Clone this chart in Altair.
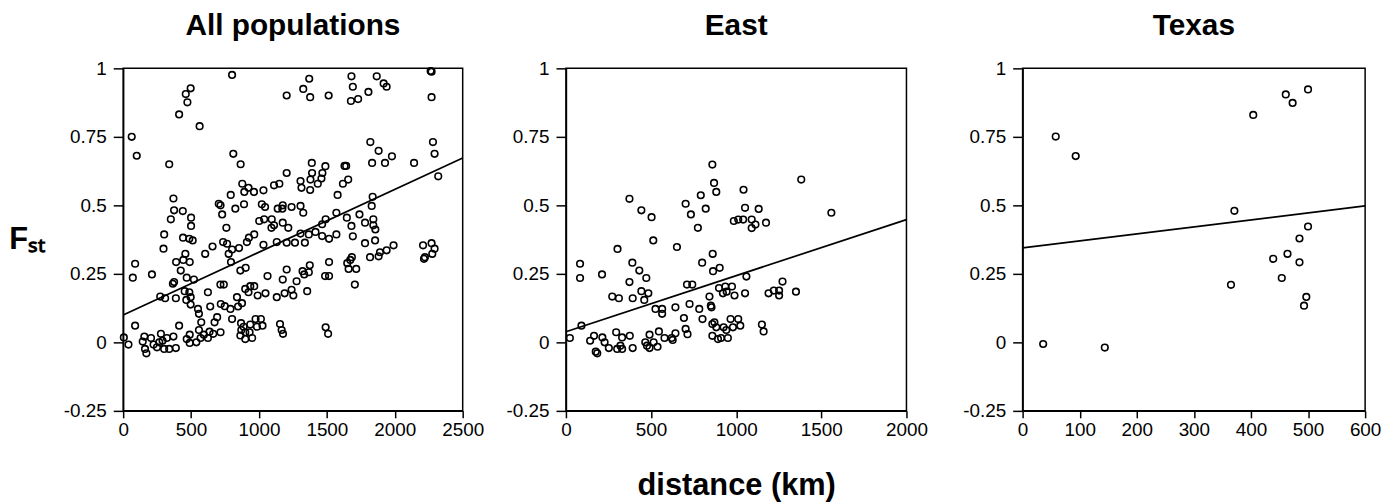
import altair as alt
import pandas as pd

# ---------------- data ----------------
all_dist = [802, 497, 461, 473, 412, 563, 63, 100, 339, 1204, 1326, 1370, 1377, 1513, 1681, 1691, 1677, 1730,
            1806, 1867, 1918, 1940, 2264, 2271, 2271, 1820, 1881, 1979, 1833, 1928, 2142, 2281, 2293, 2320,
            811, 865, 1389, 1391, 1379, 1489, 1467, 1460, 1433, 1377, 1313, 1306, 1204, 1150, 1111, 1033, 963,
            923, 892, 877, 792, 1630, 1642, 1618, 1657, 1579, 1837, 370,
            375, 439, 351, 500, 500, 704, 717, 729, 826, 890, 1021, 1045, 1138, 1175, 1172, 1240, 1306, 1326,
            1002, 1038, 1094, 1111, 1092, 1175, 1216, 760, 1465, 1491, 1570, 1647, 1681, 1740, 1781, 1830,
            1842, 1842, 1857, 1855, 1781, 1691, 1570, 1516, 1465, 1416, 1367, 1306, 1265, 1338, 1204, 1131,
            1033, 965, 926, 911, 853, 802, 777, 794, 736, 765, 658, 604, 441, 487, 512, 302, 297, 458, 390,
            443, 490, 424, 88, 71, 212, 375, 366, 468, 521, 273, 309, 388, 453, 487, 497, 465, 497, 551, 558,
            624, 641, 716, 741, 719, 748, 790, 838, 846, 875, 863, 902, 899, 923, 936, 965, 990, 1048, 1063,
            1131, 1175, 1204, 1189, 1240, 1253, 1277, 1321, 1333, 1367, 1374, 1355, 1487, 1516, 1516, 1650,
            1672, 1684, 1660, 1716, 1706, 1818, 1881, 1891, 1940, 1991, 2208, 2271, 2293, 2276, 2215, 2222,
            88, 412, 692, 673, 802, 868, 887, 870, 936, 975, 1014, 1026, 985, 899, 931, 863, 899, 950, 1155,
            1167, 1177, 1491, 1509, 575, 558, 594, 636, 663, 717, 624, 570, 539, 490, 468, 490, 5, 39, 156,
            144, 161, 171, 205, 224, 249, 278, 290, 302, 322, 339, 370, 388, 266]
all_fst = [0.976, 0.927, 0.906, 0.876, 0.832, 0.789, 0.750, 0.681, 0.650, 0.901, 0.925, 0.962, 0.895, 0.901,
           0.971, 0.933, 0.881, 0.888, 0.914, 0.971, 0.945, 0.933, 0.990, 0.988, 0.895, 0.731, 0.699, 0.679,
           0.655, 0.655, 0.655, 0.731, 0.688, 0.606, 0.688, 0.650, 0.655, 0.618, 0.594, 0.643, 0.618, 0.598,
           0.579, 0.556, 0.564, 0.589, 0.618, 0.579, 0.573, 0.555, 0.549, 0.564, 0.549, 0.579, 0.538, 0.644,
           0.644, 0.579, 0.594, 0.538, 0.531, 0.525,
           0.482, 0.479, 0.449, 0.455, 0.425, 0.506, 0.500, 0.467, 0.488, 0.504, 0.504, 0.494, 0.488, 0.500,
           0.488, 0.494, 0.498, 0.473, 0.443, 0.449, 0.449, 0.427, 0.418, 0.437, 0.418, 0.418, 0.431, 0.449,
           0.473, 0.455, 0.425, 0.467, 0.437, 0.498, 0.449, 0.427, 0.412, 0.372, 0.362, 0.387, 0.394, 0.378,
           0.388, 0.403, 0.394, 0.397, 0.364, 0.364, 0.364, 0.366, 0.356, 0.394, 0.382, 0.366, 0.344, 0.339,
           0.323, 0.293, 0.366, 0.360, 0.350, 0.323, 0.382, 0.378, 0.372, 0.394, 0.342, 0.323, 0.293, 0.301,
           0.293, 0.262, 0.287, 0.236, 0.248, 0.220, 0.214, 0.236, 0.229, 0.167, 0.161, 0.161, 0.187, 0.183,
           0.165, 0.155, 0.138, 0.122, 0.104, 0.183, 0.131, 0.211, 0.211, 0.140, 0.132, 0.122, 0.165, 0.131,
           0.143, 0.262, 0.272, 0.195, 0.183, 0.205, 0.205, 0.171, 0.179, 0.242, 0.165, 0.229, 0.266, 0.179,
           0.192, 0.171, 0.223, 0.260, 0.248, 0.256, 0.281, 0.187, 0.242, 0.242, 0.293, 0.289, 0.301, 0.311,
           0.268, 0.268, 0.211, 0.311, 0.314, 0.329, 0.336, 0.354, 0.354, 0.362, 0.342, 0.323, 0.305, 0.311,
           0.061, 0.061, 0.092, 0.073, 0.085, 0.070, 0.057, 0.045, 0.065, 0.085, 0.085, 0.061, 0.057, 0.037,
           0.037, 0.025, 0.012, 0.016, 0.067, 0.045, 0.031, 0.055, 0.031, 0.073, 0.045, 0.028, 0.039, 0.031,
           0.037, 0.016, 0.016, 0.000, 0.028, 0.012, -0.002, 0.018, -0.008, 0.021, 0.003, -0.024, -0.040,
           0.016, -0.008, -0.018, 0.031, 0.006, -0.024, 0.016, -0.024, 0.021, -0.021, 0.000]

east_dist = [23, 83, 83, 91, 142, 165, 175, 184, 212, 214, 227, 252, 272, 295, 301, 303, 311, 320, 330, 330,
             373, 373, 375, 390, 392, 392, 431, 443, 443, 460, 472, 484, 466, 476, 491, 491, 503, 513, 515,
             526, 538, 546, 565, 565, 579, 621, 627, 643, 643, 652, 693, 703, 703, 711, 714, 726, 734, 742,
             775, 783, 792, 800, 802, 821, 843, 851, 855, 860, 862, 864, 870, 860, 872, 860, 883, 883, 893,
             903, 899, 911, 922, 926, 936, 942, 944, 951, 967, 975, 981, 986, 990, 1012, 1012, 1024, 1041,
             1043, 1052, 1052, 1060, 1091, 1091, 1113, 1132, 1151, 1161, 1175, 1190, 1221, 1252, 1252, 1272,
             1351, 1382, 1559]
east_fst = [0.016, 0.287, 0.235, 0.061, 0.006, 0.024, -0.034, -0.040, 0.248, 0.018, 0.000, -0.021, 0.167,
            0.037, -0.024, 0.341, 0.161, -0.012, 0.018, -0.024, 0.524, 0.220, 0.024, 0.291, 0.161, -0.021,
            0.262, 0.482, 0.187, 0.155, 0.235, 0.179, 0.000, -0.012, 0.028, -0.021, 0.457, 0.372, 0.000, 0.122,
            -0.016, 0.040, 0.122, 0.104, 0.016, 0.016, 0.009, 0.033, 0.128, 0.348, 0.089, 0.506, 0.049, 0.211,
            0.030, 0.140, 0.467, 0.211, 0.418, 0.122, 0.537, 0.291, 0.085, 0.488, 0.167, 0.134, 0.128, 0.649,
            0.323, 0.260, 0.582, 0.067, 0.073, 0.024, 0.549, 0.055, 0.012, 0.272, 0.198, 0.016, 0.179, 0.055,
            0.204, 0.045, 0.185, 0.016, 0.085, 0.204, 0.055, 0.443, 0.171, 0.085, 0.448, 0.061, 0.448, 0.557,
            0.491, 0.179, 0.240, 0.448, 0.417, 0.430, 0.487, 0.065, 0.040, 0.437, 0.179, 0.189, 0.189, 0.171,
            0.222, 0.185, 0.594, 0.473]

texas_dist = [36, 58, 93, 144, 365, 371, 404, 439, 454, 461, 464, 473, 485, 485, 493, 497, 500, 500]
texas_fst = [-0.006, 0.751, 0.680, -0.019, 0.210, 0.480, 0.830, 0.305, 0.235, 0.905, 0.323, 0.874, 0.379,
             0.292, 0.134, 0.166, 0.923, 0.423]

# regression line end points
all_line_dist = [0, 2500]
all_line_fst = [0.100, 0.673]
east_line_dist = [0, 2000]
east_line_fst = [0.039, 0.448]
texas_line_dist = [0, 600]
texas_line_fst = [0.345, 0.498]

panel_titles = ["All populations", "East", "Texas"]
y_ticks = [-0.25, 0, 0.25, 0.5, 0.75, 1]

FONT = "Liberation Sans"
LABEL_SIZE = 19
y_label_expr = "datum.value < 0 ? '-' + format(-datum.value, '~g') : format(datum.value, '~g')"
x_label_expr = "format(datum.value, 'd')"


def panel(dist, fst, ldist, lfst, title, xmax, xstep, width, ytitle=None, xtitle=None):
    pts = pd.DataFrame({"dist": dist, "fst": fst})
    ln = pd.DataFrame({"dist": ldist, "fst": lfst})
    xaxis_kw = dict(values=list(range(0, xmax + 1, xstep)), labelExpr=x_label_expr, labelOverlap=False,
                    labelFlush=False, labelBound=False, tickSize=7, labelPadding=3,
                    labelFontSize=LABEL_SIZE, labelFont=FONT)
    if xtitle:
        xaxis_kw.update(title=xtitle, titleFontSize=31, titleFontWeight="bold", titleFont=FONT,
                        titlePadding=31, titleColor="black")
    else:
        xaxis_kw.update(title=None)
    yaxis_kw = dict(values=y_ticks, labelExpr=y_label_expr, tickSize=10, labelPadding=7,
                    labelOverlap=False, labelBound=False, labelFlush=False,
                    labelFontSize=LABEL_SIZE, labelFont=FONT)
    if ytitle:
        yaxis_kw.update(title=ytitle, titleAngle=0, titleFontSize=31, titleFontWeight="bold",
                        titleFont=FONT, titleAlign="right", titleBaseline="middle", titlePadding=19,
                        titleColor="black")
    else:
        yaxis_kw.update(title=None)
    x = alt.X("dist:Q", scale=alt.Scale(domain=[0, xmax], nice=False, zero=False), axis=alt.Axis(**xaxis_kw))
    y = alt.Y("fst:Q", scale=alt.Scale(domain=[-0.25, 1], nice=False, zero=False), axis=alt.Axis(**yaxis_kw))
    p = alt.Chart(pts).mark_point(shape="circle", filled=False, color="black", strokeWidth=1.6, size=44,
                                  opacity=1).encode(x=x, y=y)
    l = alt.Chart(ln).mark_line(color="black", strokeWidth=1.7).encode(x="dist:Q", y="fst:Q")
    return alt.layer(p, l).properties(
        width=width, height=345,
        title=alt.TitleParams(title, fontSize=30, fontWeight="bold", font=FONT, color="black",
                              anchor="middle", offset=19)
    )


p1 = panel(all_dist, all_fst, all_line_dist, all_line_fst, panel_titles[0], 2500, 500, 342, ytitle="Fₛₜ")
p2 = panel(east_dist, east_fst, east_line_dist, east_line_fst, panel_titles[1], 2000, 500, 343,
           xtitle="distance (km)")
p3 = panel(texas_dist, texas_fst, texas_line_dist, texas_line_fst, panel_titles[2], 600, 100, 345)

chart = alt.hconcat(alt.hconcat(p1, p2, spacing=20), p3, spacing=33).configure(
    padding={"left": 0, "top": 0, "right": 0, "bottom": 0}
).configure_view(
    stroke="black", strokeWidth=1.5
).configure_axis(
    grid=False, domainColor="black", domainWidth=1.5, tickColor="black", tickWidth=1.5,
    labelColor="black", labelFont=FONT, labelFontSize=LABEL_SIZE
)

chart.save("out.html", embed_options={"renderer": "svg", "actions": False})
